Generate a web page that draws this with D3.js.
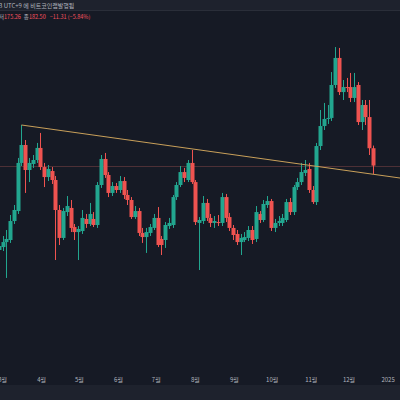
<!DOCTYPE html>
<html><head><meta charset="utf-8">
<script src="https://cdn.jsdelivr.net/npm/d3@7"></script>
<style>html,body{margin:0;padding:0;background:#161a25;overflow:hidden}svg{display:block}</style>
</head><body>
<script>
// ---- data (3-day bars) ----
const firstBarDate = "2024-02-27";
const barStepDays = 3;
const opens = [123.6,125.6,129.0,130.4,143.3,150.1,182.8,195.0,178.0,182.1,184.8,193.0,180.0,173.2,177.3,171.2,150.8,131.8,149.4,152.2,
139.2,135.8,136.5,144.7,141.3,144.7,140.6,167.8,185.5,174.6,162.4,167.1,164.4,170.5,161.0,157.6,146.0,150.1,135.2,132.4,
135.2,138.6,145.4,131.1,130.4,139.9,140.6,159.6,167.8,176.6,171.2,182.8,169.8,142.0,143.3,155.6,145.4,142.0,142.6,142.0,
159.6,146.0,138.6,134.5,129.0,130.4,131.8,137.2,131.1,148.1,144.0,154.2,156.9,138.6,142.0,142.0,144.0,156.2,149.4,166.4,
169.8,176.0,178.7,164.4,156.2,194.3,207.9,212.7,213.4,235.8,254.2,231.0,234.4,234.4,227.0,235.8,210.6,222.2,214.0,192.8];
const highs = [130.4,133.1,137.2,147.4,154.2,186.2,208.6,198.4,186.2,188.2,196.4,203.2,182.8,181.4,180.0,173.9,154.2,152.2,160.3,157.6,
141.3,139.9,150.8,148.1,155.6,149.4,169.8,188.2,189.6,176.6,169.8,169.2,173.9,173.2,164.4,159.6,153.5,152.2,138.6,138.6,
141.3,148.1,152.8,133.1,142.6,145.4,161.0,169.8,180.7,179.4,184.8,191.6,171.2,146.0,160.3,158.3,148.1,146.7,147.4,162.4,
161.7,148.8,140.6,137.2,134.5,135.8,139.9,139.9,153.5,150.1,157.6,160.3,158.3,144.7,146.7,148.1,158.3,159.0,167.8,172.6,
182.8,184.8,182.8,167.1,196.4,218.8,223.6,222.2,244.6,261.6,261.0,239.2,240.6,244.0,244.0,237.8,225.6,225.6,225.6,194.6];
const lows = [120.9,122.9,104.6,128.4,141.3,148.1,180.7,162.4,169.8,179.4,182.8,178.0,166.4,170.5,168.5,116.8,127.0,130.4,146.7,135.8,
130.4,116.8,134.5,138.6,139.9,139.2,138.6,165.8,172.6,159.6,160.3,162.4,162.4,158.3,154.2,144.7,144.7,133.1,128.4,121.6,
133.1,137.2,125.6,120.2,125.0,137.9,138.6,157.6,166.4,169.8,169.8,168.5,140.6,110.0,141.3,143.3,139.2,138.6,139.9,139.9,
142.6,136.5,130.4,127.0,120.2,129.0,129.7,127.7,129.0,142.0,142.6,152.2,136.5,135.8,139.9,139.9,142.6,147.4,147.4,164.4,
167.8,173.9,162.4,154.9,154.2,191.6,205.2,209.3,211.3,233.8,229.0,225.6,231.0,224.2,224.2,208.6,205.2,208.6,188.2,175.3];
const closes = [126.3,129.0,131.1,143.3,150.8,182.8,195.0,178.0,182.8,184.8,193.0,180.0,173.2,178.7,171.2,150.8,131.8,150.1,153.5,138.6,
135.8,137.9,145.4,141.3,148.1,140.6,167.8,185.5,174.6,162.4,167.1,164.4,170.5,161.0,157.6,146.0,150.1,135.2,132.4,135.8,
139.2,145.4,127.0,127.0,140.6,142.0,159.6,167.8,176.6,172.6,182.8,169.8,142.6,144.0,155.6,145.4,142.0,143.3,142.0,159.6,
145.4,138.6,133.8,129.0,131.8,132.4,137.2,130.4,149.4,144.0,154.9,156.9,138.6,142.0,143.3,145.4,156.2,149.4,166.4,169.8,
176.6,178.0,164.4,156.2,194.3,207.9,212.7,213.4,235.8,254.2,231.0,234.4,233.8,227.0,234.4,210.6,222.2,214.0,192.8,181.0];

// trendline anchors (bar index, price)
const trendAnchorBars = [6, 51];
const trendAnchorPrices = [208.6, 192.4];

// time axis
const tickDates = ["2024-03-01","2024-04-01","2024-05-01","2024-06-01","2024-07-01","2024-08-01","2024-09-01","2024-10-01","2024-11-01","2024-12-01","2025-01-01"];
const tickLabels = ["3월","4월","5월","6월","7월","8월","9월","10월","11월","12월","2025"];

// header texts
const headerLine1 = "3 UTC+9 에 비트코인랩발행됨";
const ohlcNames = ["저", "종"];
const ohlcValues = ["175.26", "182.50"];
const changeText = "−11.31 (−5.84%)";

// ---- drawing ----
const W = 400, H = 400;
const UP = "#22a68f", DOWN = "#ef5350";
const FONT = "'Noto Sans CJK KR','Noto Sans',sans-serif";
const svg = d3.select("body").append("svg").attr("width", W).attr("height", H);

svg.append("rect").attr("width", W).attr("height", H).attr("fill", "#161a25");
svg.append("rect").attr("width", W).attr("height", 10).attr("fill", "#1e222d");
svg.append("line").attr("x1", 0).attr("x2", W).attr("y1", 10.5).attr("y2", 10.5).attr("stroke", "#2a2e39");
svg.append("rect").attr("y", 385).attr("width", W).attr("height", 15).attr("fill", "#1e222d");

const parse = d3.utcParse("%Y-%m-%d");
const start = parse(firstBarDate);
const bars = closes.map((c, i) => ({
  date: d3.utcDay.offset(start, i * barStepDays),
  o: opens[i], h: highs[i], l: lows[i], c: c
}));

const x = d3.scaleUtc()
  .domain([bars[0].date, bars[bars.length - 1].date])
  .range([-1.2, 373]);
const y = d3.scaleLinear().domain([110, 263]).range([270, 45]);

const plot = svg.append("g");

// last price line
const last = bars[bars.length - 1];
plot.append("line")
  .attr("x1", 0).attr("x2", W)
  .attr("y1", Math.round(y(last.c)) + 0.5).attr("y2", Math.round(y(last.c)) + 0.5)
  .attr("stroke", "#a0524f").attr("stroke-opacity", 0.4).attr("stroke-width", 1);

// candles
const bw = 4;
const g = plot.selectAll("g.c").data(bars).join("g").attr("class", "c");
g.append("line")
  .attr("x1", d => Math.round(x(d.date)) + 0.5)
  .attr("x2", d => Math.round(x(d.date)) + 0.5)
  .attr("y1", d => y(d.h)).attr("y2", d => y(d.l))
  .attr("stroke", d => d.c >= d.o ? UP : DOWN).attr("stroke-width", 1);
g.append("rect")
  .attr("x", d => Math.round(x(d.date)) + 0.5 - bw / 2)
  .attr("width", bw)
  .attr("y", d => y(Math.max(d.o, d.c)))
  .attr("height", d => Math.max(1, Math.abs(y(d.o) - y(d.c))))
  .attr("fill", d => d.c >= d.o ? UP : DOWN);

// trendline
const ax0 = x(bars[trendAnchorBars[0]].date), ay0 = y(trendAnchorPrices[0]);
const ax1 = x(bars[trendAnchorBars[1]].date), ay1 = y(trendAnchorPrices[1]);
const slope = (ay1 - ay0) / (ax1 - ax0);
plot.append("line")
  .attr("x1", ax0).attr("y1", ay0)
  .attr("x2", W).attr("y2", ay0 + slope * (W - ax0))
  .attr("stroke", "#c9a05a").attr("stroke-width", 1);

// time axis labels
svg.append("g").selectAll("text").data(tickDates).join("text")
  .attr("x", d => x(parse(d)))
  .attr("y", 382)
  .attr("text-anchor", "middle")
  .attr("font-family", FONT).attr("font-size", 6)
  .attr("fill", "#b2b5be")
  .text((d, i) => tickLabels[i]);

// header
svg.append("text").attr("x", -1).attr("y", 7.5)
  .attr("font-family", FONT).attr("font-size", 6).attr("fill", "#b2b5be")
  .text(headerLine1);
const h2 = svg.append("text").attr("x", -1).attr("y", 19)
  .attr("font-family", FONT).attr("font-size", 5.5);
ohlcNames.forEach((n, i) => {
  h2.append("tspan").attr("fill", "#b2b5be").attr("dx", i ? 3 : 0).text(n);
  h2.append("tspan").attr("fill", "#f7525f").text(ohlcValues[i]);
});
h2.append("tspan").attr("fill", "#f7525f").attr("dx", 4).text(changeText);
</script>
</body></html>
